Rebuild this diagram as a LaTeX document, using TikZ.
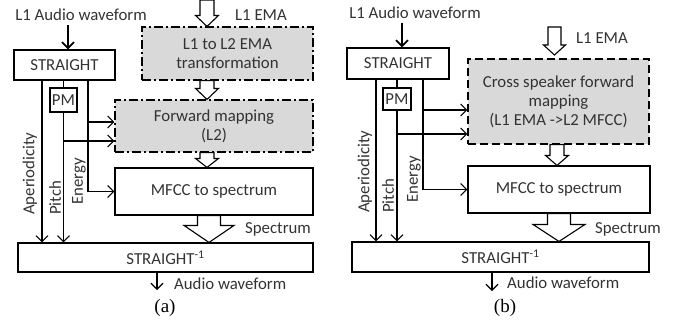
\documentclass[tikz,border=0pt]{standalone}
\usepackage{fontspec}
\setmainfont{Carlito}
\newfontfamily\capfont{Liberation Serif}
\usetikzlibrary{arrows.meta,calc}

% hollow block arrow: from, to, shaft half width, head half width, head length
\newcommand{\blockarrow}[5]{%
  \draw[fill=white,line width=1.1pt,line join=miter] let \p1=(#1), \p2=(#2) in
    (\x1-#3,\y1) -- (\x1+#3,\y1) -- (\x1+#3,\y2+#5) -- (\x1+#4,\y2+#5)
    -- (\x1,\y2) -- (\x1-#4,\y2+#5) -- (\x1-#3,\y2+#5) -- cycle;}

\begin{document}
\begin{tikzpicture}[x=1pt,y=-1pt,
    font=\fontsize{16.8}{19}\selectfont,
    box/.style={draw,line width=1.1pt,inner sep=0pt,align=center,text=black!80},
    chain/.style={box,fill=black!15,dash pattern=on 9pt off 3pt on 2pt off 3pt},
    dnn/.style={box,fill=black!15,dash pattern=on 8pt off 4pt},
    lbl/.style={inner sep=0pt,text=black!80},
    side/.style={lbl,rotate=90,anchor=west},
    wire/.style={line width=1.1pt},
    feed/.style={wire,-{Straight Barb[length=6pt,width=12pt]}},
    src/.style={line width=1.8pt,-{Straight Barb[length=6pt,width=12pt]}}]
  \useasboundingbox (0,0) rectangle (681,325);

  % (a) EMA transformation, then forward mapping
  \node[lbl] (inA) at (81,15) {L1 Audio waveform};
  \node[box,minimum width=101pt,minimum height=30pt] (stA) at (64.5,65) {STRAIGHT};
  \node[box,minimum width=27pt,minimum height=24pt] (pmA) at (63.5,100) {PM};
  \node[lbl] (emaA) at (261,15) {L1 EMA};
  \node[chain,minimum width=171pt,minimum height=53pt] (trA) at (227.5,53.5) {L1 to L2 EMA\\transformation};
  \node[chain,minimum width=198pt,minimum height=52pt] (fwA) at (214,126) {Forward mapping\\(L2)};
  \node[box,minimum width=198pt,minimum height=47pt] (mfA) at (214,191.5) {MFCC to spectrum};
  \node[box,minimum width=295pt,minimum height=29pt] (invA) at (165.5,257.5) {STRAIGHT\textsuperscript{-1}};
  \node[side] (apLA) at (30,215) {Aperiodicity};
  \node[side] (piLA) at (55,215) {Pitch};
  \node[side] (enLA) at (79,205) {Energy};
  \node[lbl] (spA) at (278,229) {Spectrum};
  \node[lbl,anchor=west] (owA) at (174,284) {Audio waveform};
  \node[font=\capfont\fontsize{19}{21}\selectfont] (capA) at (165,308) {(a)};

  \coordinate (hA) at (207,0);
  \coordinate (sA) at (209,0);
  \coordinate (apA) at (42,0);
  \coordinate (enA) at (88,0);
  \coordinate (eA) at ([yshift=4pt]fwA.west);
  \coordinate (pA) at ([yshift=-15pt]fwA.west);
  \coordinate (oA) at (157,290);

  \draw[src] ([xshift=3.5pt,yshift=-4pt]inA.south -| stA.north) -- ([xshift=3.5pt]stA.north);
  \draw[feed] (stA.south -| apA) -- (invA.north -| apA);
  \draw[wire] (stA.south -| pmA) -- (pmA.north);
  \draw[feed] (pmA.south) -- (invA.north -| pmA);
  \draw[feed] (pA -| pmA) -- (pA);
  \draw[feed] (stA.south -| enA) -- (mfA.west -| enA) -- (mfA.west);
  \draw[feed] (eA -| enA) -- (eA);
  \draw[feed] (invA.south -| oA) -- (oA);

  \blockarrow{hA}{trA.north -| hA}{7pt}{11.5pt}{11pt}
  \blockarrow{trA.south -| hA}{fwA.north -| hA}{7pt}{11.5pt}{11pt}
  \blockarrow{fwA.south -| hA}{mfA.north -| hA}{7pt}{11.5pt}{9pt}
  \blockarrow{mfA.south -| sA}{invA.north -| sA}{11.5pt}{25pt}{17pt}

  % (b) cross speaker forward mapping
  \node[lbl] (inB) at (415,13) {L1 Audio waveform};
  \node[box,minimum width=102pt,minimum height=31pt] (stB) at (398,63.5) {STRAIGHT};
  \node[box,minimum width=28pt,minimum height=22pt] (pmB) at (397,99) {PM};
  \node[lbl] (emaB) at (602,38) {L1 EMA};
  \node[dnn,minimum width=181pt,minimum height=85pt] (csB) at (558.5,101.5) {Cross speaker forward\\mapping\\(L1 EMA ->L2 MFCC)};
  \node[box,minimum width=182pt,minimum height=47pt] (mfB) at (559,189.5) {MFCC to spectrum};
  \node[box,minimum width=297pt,minimum height=30pt] (invB) at (500.5,257) {STRAIGHT\textsuperscript{-1}};
  \node[side] (apLB) at (365,213) {Aperiodicity};
  \node[side] (piLB) at (388,213) {Pitch};
  \node[side] (enLB) at (414,203) {Energy};
  \node[lbl] (spB) at (628,229) {Spectrum};
  \node[lbl,anchor=west] (owB) at (507,283) {Audio waveform};
  \node[font=\capfont\fontsize{19}{21}\selectfont] (capB) at (505,308) {(b)};

  \coordinate (hB) at (554.5,27);
  \coordinate (tB) at (554.5,55);
  \coordinate (gB) at (557,0);
  \coordinate (apB) at (376,0);
  \coordinate (enB) at (423,0);
  \coordinate (eB) at ([yshift=-8.5pt]csB.west);
  \coordinate (pB) at ([yshift=-32.5pt]csB.west);
  \coordinate (oB) at (492,291);

  \draw[src] ([xshift=4pt,yshift=-4pt]inB.south -| stB.north) -- ([xshift=4pt]stB.north);
  \draw[feed] (stB.south -| apB) -- (invB.north -| apB);
  \draw[wire] (stB.south -| pmB) -- (pmB.north);
  \draw[feed] (pmB.south) -- (invB.north -| pmB);
  \draw[feed] (pB -| pmB) -- (pB);
  \draw[feed] (stB.south -| enB) -- (mfB.west -| enB) -- (mfB.west);
  \draw[feed] (eB -| enB) -- (eB);
  \draw[feed] (invB.south -| oB) -- (oB);

  \blockarrow{hB}{tB}{6.5pt}{11pt}{10pt}
  \blockarrow{csB.south -| gB}{mfB.north -| gB}{7pt}{11.5pt}{10pt}
  \blockarrow{mfB.south}{invB.north -| mfB.south}{11.5pt}{26pt}{17pt}
\end{tikzpicture}
\end{document}
